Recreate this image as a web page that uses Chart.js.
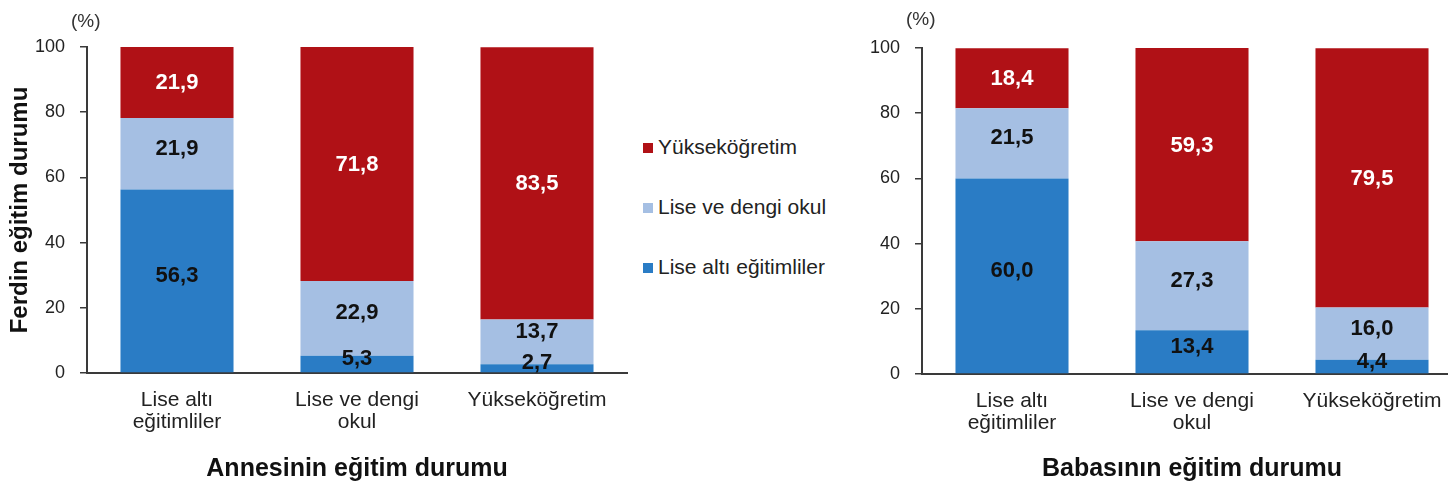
<!DOCTYPE html>
<html>
<head>
<meta charset="utf-8">
<script src="https://cdn.jsdelivr.net/npm/chart.js@4"></script>
<style>
  html, body { margin: 0; padding: 0; background: #fff; width: 1448px; height: 487px; overflow: hidden; position: relative; font-family: "Liberation Sans", Arial, sans-serif; }
  canvas { position: absolute; top: 0; }
  #c1 { left: 0; }
  #c2 { left: 835px; }
  .pct { position: absolute; font-size: 19px; color: #333; }
  #legend { position: absolute; left: 643px; top: 134px; }
  .li { position: absolute; white-space: nowrap; font-size: 21px; color: #222; height: 26px; line-height: 26px; }
  .sw { display: inline-block; width: 10px; height: 10px; margin-right: 5px; vertical-align: 1px; }
</style>
</head>
<body>
<canvas id="c1" width="630" height="487"></canvas>
<canvas id="c2" width="630" height="487"></canvas>
<div class="pct" style="left:71px; top:10px;">(%)</div>
<div class="pct" style="left:906px; top:8px;">(%)</div>
<div id="legend"></div>
<script>
// ---- data ----
const categories = [["Lise altı", "eğitimliler"], ["Lise ve dengi", "okul"], "Yükseköğretim"];
const seriesNames = ["Lise altı eğitimliler", "Lise ve dengi okul", "Yükseköğretim"];
const seriesColors = ["#2A7CC5", "#A5BFE3", "#B01116"];
const labelColors = ["#111111", "#111111", "#FFFFFF"];
const yTicks = [0, 20, 40, 60, 80, 100];

// Annesinin eğitim durumu
const motherLiseAlti = [56.3, 5.3, 2.7];
const motherLise = [21.9, 22.9, 13.7];
const motherYuksek = [21.9, 71.8, 83.5];

// Babasının eğitim durumu
const fatherLiseAlti = [60.0, 13.4, 4.4];
const fatherLise = [21.5, 27.3, 16.0];
const fatherYuksek = [18.4, 59.3, 79.5];

const FONT = '"Liberation Sans", Arial, sans-serif';

const valueLabels = {
  id: 'valueLabels',
  afterDatasetsDraw(chart) {
    const ctx = chart.ctx;
    const bottom = chart.chartArea.bottom;
    ctx.save();
    ctx.font = 'bold 22px ' + FONT;
    ctx.textAlign = 'center';
    ctx.textBaseline = 'middle';
    const n = chart.data.labels.length;
    for (let i = 0; i < n; i++) {
      const ys = [];
      chart.data.datasets.forEach((ds, di) => {
        const bar = chart.getDatasetMeta(di).data[i];
        let y = (bar.y + bar.base) / 2;
        if (di < 2) y -= 6;
        ys.push(y);
      });
      ys[0] = Math.min(ys[0], bottom - 11);
      ys[1] = Math.min(ys[1], ys[0] - 31);
      chart.data.datasets.forEach((ds, di) => {
        const bar = chart.getDatasetMeta(di).data[i];
        ctx.fillStyle = labelColors[di];
        ctx.fillText(ds.data[i].toFixed(1).replace('.', ','), bar.x, ys[di] + 1);
      });
    }
    ctx.restore();
  }
};

function makeChart(id, d1, d2, d3, xTitle, yTitle, top) {
  const datasets = [d1, d2, d3].map((d, i) => ({
    label: seriesNames[i],
    data: d,
    backgroundColor: seriesColors[i],
    borderWidth: 0,
    categoryPercentage: 1.0,
    barPercentage: 0.628
  }));
  return new Chart(document.getElementById(id), {
    type: 'bar',
    data: { labels: categories, datasets },
    plugins: [valueLabels],
    options: {
      responsive: false,
      animation: false,
      devicePixelRatio: 1,
      layout: { padding: { top: top, right: 3, bottom: 0, left: 0 } },
      plugins: { legend: { display: false }, tooltip: { enabled: false } },
      scales: {
        x: {
          stacked: true,
          afterFit: s => { s.height = 487 - (top + 326); },
          grid: { display: false, drawTicks: false },
          border: { display: true, color: '#3a3a3a', width: 2 },
          ticks: { color: '#222', font: { family: FONT, size: 21, lineHeight: 1.05 }, padding: 16, maxRotation: 0, autoSkip: false },
          title: { display: !!xTitle, text: xTitle, color: '#111', font: { family: FONT, size: 25, weight: 'bold' }, padding: { top: 0, bottom: 3 } }
        },
        y: {
          stacked: true,
          min: 0, max: 100,
          afterFit: s => { s.width = 87; },
          afterBuildTicks: s => { s.ticks = yTicks.map(v => ({ value: v })); },
          grid: { display: true, drawOnChartArea: false, drawTicks: true, tickLength: 7, color: '#3a3a3a', lineWidth: 1.5 },
          border: { display: true, color: '#3a3a3a', width: 2 },
          ticks: { color: '#222', font: { family: FONT, size: 18 }, padding: 15 },
          title: { display: !!yTitle, text: yTitle, color: '#111', font: { family: FONT, size: 24, weight: 'bold' }, padding: { top: 6, bottom: 0 } }
        }
      }
    }
  });
}

makeChart('c1', motherLiseAlti, motherLise, motherYuksek, 'Annesinin eğitim durumu', 'Ferdin eğitim durumu', 47);
makeChart('c2', fatherLiseAlti, fatherLise, fatherYuksek, 'Babasının eğitim durumu', '', 48);

// legend (top to bottom: Yükseköğretim, Lise ve dengi okul, Lise altı eğitimliler)
const legend = document.getElementById('legend');
[2, 1, 0].forEach((si, k) => {
  const div = document.createElement('div');
  div.className = 'li';
  div.style.top = (k * 60) + 'px';
  const sw = document.createElement('span');
  sw.className = 'sw';
  sw.style.background = seriesColors[si];
  div.appendChild(sw);
  div.appendChild(document.createTextNode(seriesNames[si]));
  legend.appendChild(div);
});
</script>
</body>
</html>
